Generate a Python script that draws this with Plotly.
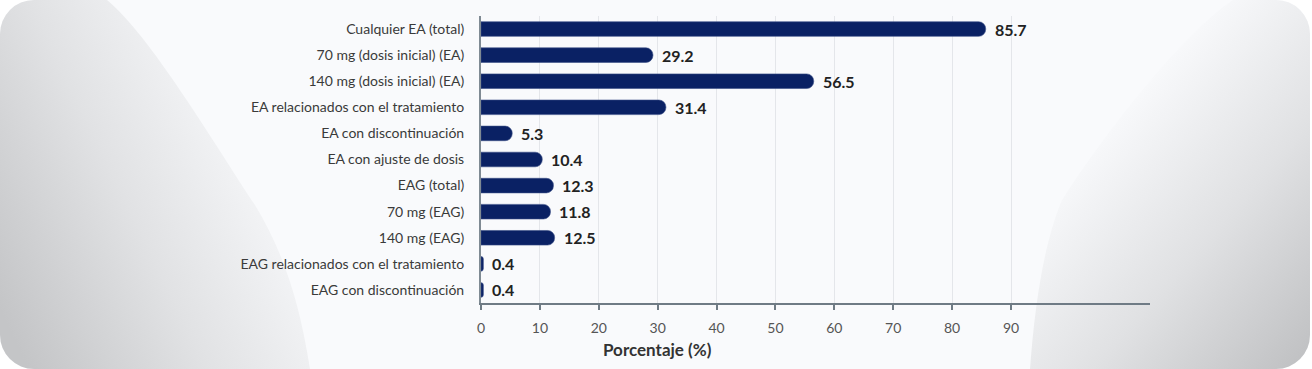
import base64
import plotly.graph_objects as go

categories = [
    "Cualquier EA (total)",
    "70 mg (dosis inicial) (EA)",
    "140 mg (dosis inicial) (EA)",
    "EA relacionados con el tratamiento",
    "EA con discontinuación",
    "EA con ajuste de dosis",
    "EAG (total)",
    "70 mg (EAG)",
    "140 mg (EAG)",
    "EAG relacionados con el tratamiento",
    "EAG con discontinuación",
]
values = [85.7, 29.2, 56.5, 31.4, 5.3, 10.4, 12.3, 11.8, 12.5, 0.4, 0.4]
tick_vals = [0, 10, 20, 30, 40, 50, 60, 70, 80, 90]
x_title = "Porcentaje (%)"

W, H = 1312, 369
ML, MR, MT, MB = 481, 162, 16, 66
PW, PH = W - ML - MR, H - MT - MB

svg = f"""<svg xmlns="http://www.w3.org/2000/svg" width="{W}" height="{H}" viewBox="0 0 {W} {H}">
<defs>
<linearGradient id="gl" gradientUnits="userSpaceOnUse" x1="0" y1="310" x2="290" y2="170">
<stop offset="0" stop-color="#c4c5c7"/><stop offset="0.5" stop-color="#e1e2e4"/><stop offset="1" stop-color="#f8f9fb"/>
</linearGradient>
<linearGradient id="gr" gradientUnits="userSpaceOnUse" x1="1312" y1="350" x2="1085" y2="150">
<stop offset="0" stop-color="#c0c1c3"/><stop offset="0.5" stop-color="#e0e1e3"/><stop offset="1" stop-color="#f8f9fb"/>
</linearGradient>
<clipPath id="c"><rect x="0" y="0" width="{W - 2}" height="{H}" rx="34" ry="34"/></clipPath>
</defs>
<rect x="0" y="0" width="{W}" height="{H}" fill="#ffffff"/>
<g clip-path="url(#c)">
<rect x="0" y="0" width="{W}" height="{H}" fill="#f9fafc"/>
<path d="M0,0 L107,0 C150,35 215,145 255,205 C285,255 300,305 310,369 L0,369 Z" fill="url(#gl)"/>
<path d="M{W},0 L1233,0 C1180,35 1100,140 1062,200 C1045,240 1035,300 1030,369 L{W},369 Z" fill="url(#gr)"/>
</g>
</svg>"""
bg_uri = "data:image/svg+xml;base64," + base64.b64encode(svg.encode()).decode()

fig = go.Figure()
fig.add_trace(go.Bar(
    y=categories, x=values, orientation="h",
    marker=dict(color="#0a2164", cornerradius=7, line=dict(color="#3a4f86", width=0.6)),
    width=0.56,
    hoverinfo="skip",
))

for c, v in zip(categories, values):
    fig.add_annotation(x=v, y=c, xref="x", yref="y", text=f"<b>{v}</b>",
                       showarrow=False, xanchor="left", xshift=7,
                       font=dict(family="Lato", size=16, color="#222222"))

fig.add_annotation(x=30, y=0, xref="x", yref="paper", yshift=-46,
                   xanchor="center", yanchor="middle",
                   text=f"<b>{x_title}</b>", showarrow=False,
                   font=dict(family="Lato", size=17, color="#333333"))

fig.add_layout_image(dict(
    source=bg_uri, xref="paper", yref="paper",
    x=-ML / PW, y=1 + MT / PH, sizex=W / PW, sizey=H / PH,
    xanchor="left", yanchor="top", sizing="stretch", layer="below",
))

fig.update_layout(
    width=W, height=H,
    margin=dict(l=ML, r=MR, t=MT, b=MB, pad=0),
    paper_bgcolor="rgba(0,0,0,0)", plot_bgcolor="rgba(0,0,0,0)",
    showlegend=False,
    bargap=0.44,
    font=dict(family="Lato", color="#3a3a3a"),
    xaxis=dict(
        range=[0, 113.6], tickvals=tick_vals, ticktext=[str(t) for t in tick_vals],
        showgrid=True, gridcolor="#e4e6ea", gridwidth=1,
        showline=True, linecolor="#6f7b85", linewidth=2,
        ticks="outside", ticklen=5, tickcolor="#6f7b85", tickwidth=1.5,
        ticklabelstandoff=6,
        tickfont=dict(family="Lato", size=14, color="#555555"),
        zeroline=False, fixedrange=True,
    ),
    yaxis=dict(
        autorange="reversed", showline=True, linecolor="#7f8a93", linewidth=2,
        ticks="", ticklabelstandoff=12,
        tickfont=dict(family="Lato", size=14, color="#3a3a3a"),
        showgrid=False, fixedrange=True,
    ),
)

fig.write_html("out.html", config={"displayModeBar": False},
               post_script="document.body.style.margin='0';document.body.style.overflow='hidden';")
